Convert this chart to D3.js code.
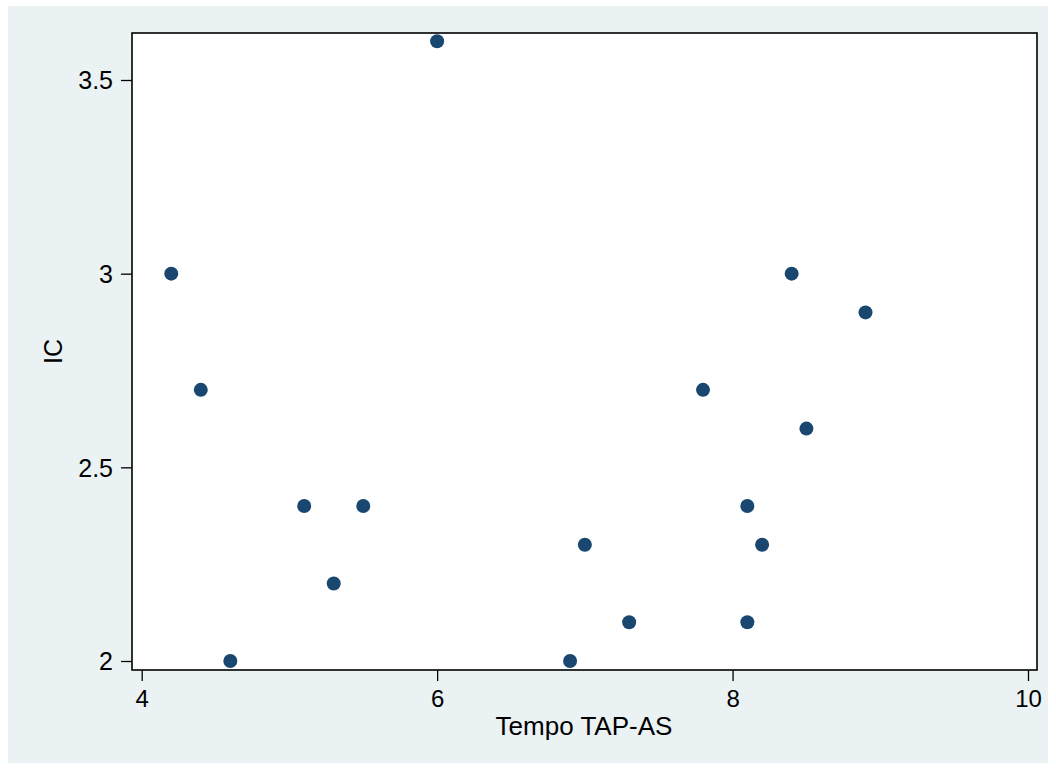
<!DOCTYPE html>
<html>
<head>
<meta charset="utf-8">
<script src="https://cdn.jsdelivr.net/npm/d3@7"></script>
<style>
  body { margin: 0; background: #fff; }
  text { font-family: "Liberation Sans", Arial, Helvetica, sans-serif; }
</style>
</head>
<body>
<script>
// valori
const tempo = [4.2, 4.4, 4.6, 5.1, 5.3, 5.5, 6.0, 6.9, 7.0, 7.3, 7.8, 8.1, 8.1, 8.2, 8.4, 8.5, 8.9];
const ic    = [3.0, 2.7, 2.0, 2.4, 2.2, 2.4, 3.6, 2.0, 2.3, 2.1, 2.7, 2.4, 2.1, 2.3, 3.0, 2.6, 2.9];
const xTicks = [4, 6, 8, 10];
const yTicks = [2, 2.5, 3, 3.5];
const xLabel = "Tempo TAP-AS";
const yLabel = "IC";

const W = 1056, H = 769;
const box = {left: 132, top: 33, right: 1037, bottom: 670};

const svg = d3.select("body").append("svg")
    .attr("width", W)
    .attr("height", H);

// sfondo esterno
svg.append("rect")
    .attr("x", 8).attr("y", 6)
    .attr("width", 1040).attr("height", 757)
    .attr("fill", "#eaf2f3");

// area del grafico
svg.append("rect")
    .attr("x", box.left).attr("y", box.top)
    .attr("width", box.right - box.left).attr("height", box.bottom - box.top)
    .attr("fill", "#fff");

const x = d3.scaleLinear().domain([4, 10]).range([141.7, 1028]);
const y = d3.scaleLinear().domain([2, 3.5]).range([661, 80]);

// asse X
const gx = svg.append("g")
    .attr("transform", `translate(0, ${box.bottom})`)
    .call(d3.axisBottom(x).tickValues(xTicks).tickFormat(d3.format("d")).tickSize(11).tickPadding(9));
gx.select(".domain").remove();
gx.selectAll("line").attr("stroke", "#000").attr("stroke-width", 1.3);
gx.selectAll("text").style("font-size", "24px").attr("fill", "#000");

// asse Y
const gy = svg.append("g")
    .attr("transform", `translate(${box.left}, 0)`)
    .call(d3.axisLeft(y).tickValues(yTicks).tickFormat(d => d).tickSize(11).tickPadding(8));
gy.select(".domain").remove();
gy.selectAll("line").attr("stroke", "#000").attr("stroke-width", 1.3);
gy.selectAll("text").style("font-size", "25px").attr("fill", "#000").attr("dy", "0.35em");

// cornice
svg.append("rect")
    .attr("x", box.left).attr("y", box.top)
    .attr("width", box.right - box.left).attr("height", box.bottom - box.top)
    .attr("fill", "none")
    .attr("stroke", "#000")
    .attr("stroke-width", 1.6);

// punti
svg.append("g").selectAll("circle")
    .data(tempo.map((t, i) => ({t: t, v: ic[i]})))
    .join("circle")
    .attr("cx", d => x(d.t))
    .attr("cy", d => y(d.v))
    .attr("r", 7)
    .attr("fill", "#1a476f");

// titoli assi
svg.append("text")
    .attr("x", 584)
    .attr("y", 735)
    .attr("text-anchor", "middle")
    .style("font-size", "26px")
    .text(xLabel);

svg.append("text")
    .attr("transform", `translate(62, ${(box.top + box.bottom) / 2}) rotate(-90)`)
    .attr("text-anchor", "middle")
    .style("font-size", "25px")
    .text(yLabel);
</script>
</body>
</html>
